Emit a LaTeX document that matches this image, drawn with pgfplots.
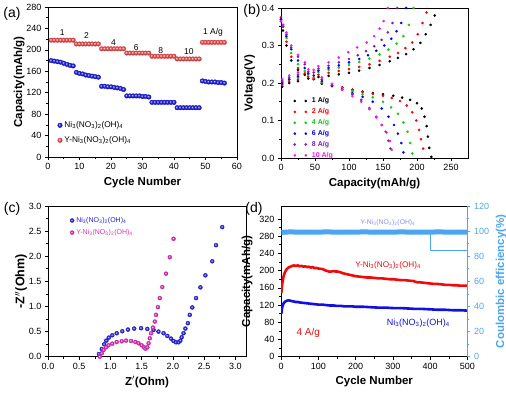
\documentclass[border=0pt]{standalone}
\usepackage{fontspec}
\setmainfont{Liberation Sans}
\usepackage{pgfplots}
\pgfplotsset{compat=1.18}

\definecolor{ballblue}{RGB}{30,30,230}
\definecolor{ballred}{RGB}{245,85,85}
\definecolor{bgreen}{RGB}{20,200,20}
\definecolor{bpurple}{RGB}{130,30,170}
\definecolor{bmag}{RGB}{250,20,240}
\definecolor{cpink}{RGB}{235,40,190}
\definecolor{dred}{RGB}{240,10,10}
\definecolor{dblue}{RGB}{15,15,230}
\definecolor{ceblue}{RGB}{75,165,240}
\definecolor{lav}{RGB}{140,140,235}

\newcommand{\nio}{Ni\textsubscript{3}(NO\textsubscript{3})\textsubscript{2}(OH)\textsubscript{4}}

\pgfplotsset{
  panel/.style={
    scale only axis,
    axis line style={line width=0.8pt},
    tick align=outside, tick pos=left,
    major tick length=3pt, minor tick length=1.8pt, minor tick num=1,
    every tick/.style={line width=0.6pt, black},
    ticklabel style={font=\fontsize{9}{10}\selectfont},
    label style={font=\fontsize{11.5}{13}\selectfont\bfseries},
    /pgf/number format/assume math mode=true,
    legend cell align=left,
  },
  bdots/.style={only marks, mark=*, mark size=1.1pt,
    legend image code/.code={\draw[##1] plot coordinates {(0pt,0pt) (11pt,0pt)};}},
}

\begin{document}
\begin{tikzpicture}[x=1pt,y=1pt]
\useasboundingbox (0,0) rectangle (506,392);

% ---------- (a) rate capability
\begin{axis}[panel, at={(48pt,235pt)}, anchor=south west, width=189pt, height=150pt,
  xmin=0, xmax=60, ymin=0, ymax=280,
  xtick={0,10,...,60}, ytick={0,40,...,280},
  xlabel={Cycle Number}, ylabel={Capacity(mAh/g)}, ylabel style={yshift=-5pt},
  legend style={at={(axis cs:2,74)}, anchor=north west, draw=none, fill=none,
    font=\fontsize{8.3}{9}\selectfont, row sep=3.5pt}]
\addplot[only marks, mark=ball, ball color=ballblue, color=ballblue, mark size=2.3pt] coordinates {
 (1,180)(2,179)(3,178)(4,177)(5,175)(6,173)(7,171)(8,170)
 (9,158)(10,156)(11,155)(12,153)(13,152)(14,151)(15,150)(16,149)
 (17,132)(18,132)(19,131)(20,131)(21,130)(22,129)(23,128)(24,126)
 (25,114)(26,114)(27,114)(28,114)(29,114)(30,113)(31,113)(32,112)
 (33,102)(34,102)(35,102)(36,102)(37,102)(38,102)(39,102)(40,102)
 (41,92)(42,92)(43,92)(44,92)(45,92)(46,92)(47,92)(48,92)
 (49,142)(50,141)(51,140)(52,140)(53,140)(54,139)(55,139)(56,138)};
\addlegendentry{\nio}
\addplot[only marks, mark=ball, ball color=ballred, color=ballred, mark size=2.3pt] coordinates {
 (1,218)(2,218)(3,218)(4,218)(5,218)(6,218)(7,218)(8,218)
 (9,211)(10,211)(11,211)(12,211)(13,211)(14,211)(15,211)(16,211)
 (17,202)(18,202)(19,202)(20,202)(21,202)(22,202)(23,202)(24,202)
 (25,194)(26,194)(27,194)(28,194)(29,194)(30,194)(31,194)(32,194)
 (33,188)(34,188)(35,188)(36,188)(37,188)(38,188)(39,188)(40,188)
 (41,183)(42,183)(43,183)(44,183)(45,183)(46,183)(47,183)(48,183)
 (49,214)(50,214)(51,214)(52,214)(53,214)(54,214)(55,214)(56,214)};
\addlegendentry{Y-\nio}
\begin{scope}[font=\fontsize{8.5}{9}\selectfont]
\node at (axis cs:4.5,233) {1};
\node at (axis cs:12.2,226) {2};
\node at (axis cs:20.8,214) {4};
\node at (axis cs:28,205) {6};
\node at (axis cs:35.8,198) {8};
\node at (axis cs:44.7,196) {10};
\node at (axis cs:52.4,233) {1 A/g};
\end{scope}
\end{axis}

% ---------- (b) discharge / charge curves
\begin{axis}[panel, at={(281pt,234pt)}, anchor=south west, width=187pt, height=150pt,
  xmin=0, xmax=275, ymin=0, ymax=0.4,
  xtick={0,50,...,250}, ytick={0,0.1,0.2,0.3,0.4},
  yticklabel style={/pgf/number format/.cd, fixed, fixed zerofill, precision=1},
  xlabel={Capacity(mAh/g)}, ylabel={Voltage(V)},
  legend style={at={(axis cs:14,0.172)}, anchor=north west, draw=none, fill=none,
    font=\fontsize{7}{8}\selectfont\bfseries, row sep=0.3pt,
    nodes={inner xsep=5pt}}]
% charge branches
\addplot[bdots, black] coordinates {
 (2,0.19)(12,0.20)(25,0.205)(40,0.212)(55,0.216)(70,0.219)(85,0.223)(100,0.227)(115,0.233)
 (130,0.240)(145,0.248)(160,0.258)(172,0.267)(184,0.277)(195,0.290)(205,0.307)(213,0.330)(220,0.355)(226,0.380)};
\addlegendentry{\textcolor{black}{1 A/g}}
\addplot[bdots, red] coordinates {
 (2,0.195)(12,0.205)(25,0.21)(40,0.217)(55,0.222)(70,0.227)(85,0.232)(100,0.237)(115,0.243)
 (130,0.250)(145,0.259)(160,0.270)(172,0.280)(183,0.293)(193,0.308)(201,0.33)(208,0.36)(214,0.388)};
\addlegendentry{\textcolor{red}{2 A/g}}
\addplot[bdots, bgreen] coordinates {
 (2,0.20)(12,0.21)(25,0.215)(40,0.222)(55,0.229)(70,0.235)(85,0.241)(100,0.248)(115,0.256)
 (130,0.265)(145,0.276)(158,0.289)(170,0.305)(180,0.325)(188,0.355)(195,0.40)};
\addlegendentry{\textcolor{bgreen}{4 A/g}}
\addplot[bdots, blue] coordinates {
 (2,0.20)(12,0.21)(25,0.218)(40,0.226)(55,0.233)(70,0.240)(85,0.247)(100,0.255)(115,0.264)
 (128,0.274)(140,0.286)(152,0.300)(162,0.318)(170,0.338)(177,0.36)(184,0.40)};
\addlegendentry{\textcolor{blue}{6 A/g}}
\addplot[bdots, bpurple] coordinates {
 (2,0.205)(12,0.215)(25,0.222)(40,0.23)(55,0.238)(70,0.246)(85,0.255)(100,0.264)(113,0.274)
 (125,0.285)(137,0.298)(148,0.315)(157,0.335)(164,0.36)(171,0.40)};
\addlegendentry{\textcolor{bpurple}{8 A/g}}
\addplot[bdots, bmag] coordinates {
 (2,0.21)(12,0.22)(25,0.228)(40,0.236)(55,0.245)(70,0.255)(85,0.268)(99,0.282)(112,0.295)
 (126,0.308)(137,0.325)(145,0.345)(151,0.365)(157,0.40)};
\addlegendentry{\textcolor{bmag}{10 A/g}}
% discharge branches
\addplot[bdots, black, forget plot] coordinates {
 (0,0.37)(3,0.34)(8,0.30)(15,0.26)(25,0.235)(35,0.222)(48,0.21)(60,0.198)(75,0.192)(90,0.188)
 (105,0.182)(120,0.177)(135,0.173)(150,0.170)(165,0.166)(178,0.161)(190,0.155)(200,0.146)
 (207,0.132)(211,0.11)(214,0.085)(216,0.057)(218,0.027)(221,0.003)};
\addplot[bdots, red, forget plot] coordinates {
 (0,0.375)(3,0.35)(8,0.31)(15,0.27)(25,0.24)(35,0.226)(48,0.212)(60,0.2)(75,0.193)(90,0.188)
 (105,0.182)(120,0.176)(135,0.171)(150,0.166)(163,0.16)(175,0.152)(185,0.14)(193,0.122)
 (199,0.1)(203,0.075)(206,0.05)(209,0.025)};
\addplot[bdots, bgreen, forget plot] coordinates {
 (0,0.37)(3,0.35)(8,0.32)(15,0.28)(25,0.25)(35,0.232)(48,0.215)(60,0.203)(75,0.193)(90,0.186)
 (105,0.178)(120,0.17)(135,0.162)(150,0.15)(162,0.135)(172,0.118)(180,0.095)(186,0.07)
 (190,0.04)(193,0.012)};
\addplot[bdots, blue, forget plot] coordinates {
 (0,0.37)(3,0.355)(8,0.325)(15,0.29)(25,0.26)(35,0.24)(48,0.22)(60,0.205)(75,0.192)(90,0.183)
 (105,0.173)(120,0.163)(135,0.15)(148,0.132)(158,0.11)(166,0.088)(172,0.065)(177,0.04)(180,0.015)};
\addplot[bdots, bpurple, forget plot] coordinates {
 (0,0.365)(3,0.35)(8,0.33)(15,0.295)(25,0.27)(35,0.25)(48,0.228)(60,0.21)(75,0.195)(90,0.183)
 (105,0.17)(118,0.155)(130,0.133)(140,0.11)(148,0.088)(154,0.07)(158,0.046)(161,0.025)};
\addplot[bdots, bmag, forget plot] coordinates {
 (0,0.365)(3,0.355)(8,0.335)(15,0.30)(25,0.275)(35,0.255)(48,0.235)(60,0.215)(75,0.198)(90,0.182)
 (105,0.165)(118,0.15)(130,0.13)(140,0.108)(148,0.088)(155,0.068)(160,0.045)(163,0.022)};
\end{axis}

% ---------- (c) Nyquist plots
\begin{axis}[panel, at={(48pt,35.3pt)}, anchor=south west, width=198pt, height=150.7pt,
  xmin=0, xmax=3.17, ymin=0, ymax=3,
  xtick={0,0.5,1,1.5,2,2.5,3}, ytick={0,0.5,1,1.5,2,2.5,3},
  ticklabel style={/pgf/number format/.cd, fixed, fixed zerofill, precision=1},
  xlabel={Z$'$(Ohm)}, ylabel={-Z$''$(Ohm)},
  ylabel style={font=\fontsize{12.5}{14}\selectfont\bfseries, yshift=-5pt},
  legend style={at={(axis cs:0.3,2.86)}, anchor=north west, draw=none, fill=none,
    font=\fontsize{7}{8}\selectfont, row sep=1.5pt}]
\addplot[only marks, mark=ball, ball color=ballblue, color=ballblue, mark size=2pt] coordinates {
 (0.816,0.053)(0.861,0.153)(0.90,0.247)(0.934,0.32)(0.974,0.38)(1.03,0.427)(1.10,0.467)
 (1.19,0.507)(1.28,0.54)(1.38,0.56)(1.49,0.567)(1.59,0.553)(1.69,0.533)(1.77,0.50)
 (1.85,0.467)(1.91,0.413)(1.97,0.36)(2.01,0.313)(2.05,0.287)(2.09,0.287)(2.12,0.32)
 (2.14,0.387)(2.17,0.467)(2.20,0.56)(2.24,0.667)(2.27,0.833)(2.31,0.98)(2.37,1.167)
 (2.44,1.38)(2.52,1.62)(2.63,1.90)(2.69,2.22)(2.79,2.58)};
\addlegendentry{\textcolor{ballblue}{\nio}}
\addplot[only marks, mark=ball, ball color=cpink, color=cpink, mark size=2pt] coordinates {
 (0.83,0.0)(0.86,0.067)(0.89,0.133)(0.93,0.187)(0.97,0.227)(1.03,0.26)(1.10,0.293)
 (1.18,0.307)(1.25,0.32)(1.33,0.313)(1.40,0.293)(1.45,0.267)(1.50,0.227)(1.54,0.187)
 (1.56,0.16)(1.59,0.187)(1.61,0.267)(1.63,0.367)(1.65,0.467)(1.68,0.58)(1.71,0.70)
 (1.73,0.833)(1.76,0.987)(1.79,1.167)(1.83,1.387)(1.89,1.653)(1.95,1.98)(2.01,2.347)};
\addlegendentry{\textcolor{cpink}{Y-\nio}}
\end{axis}

% ---------- (d) cycling stability
\begin{axis}[panel, at={(281pt,35.3pt)}, anchor=south west, width=186.5pt, height=150.7pt,
  xmin=0, xmax=500, ymin=0, ymax=350,
  xtick={0,100,...,500}, ytick={0,40,...,320},
  xlabel={Cycle Number}, ylabel={Capacity(mAh/g)}]
\addplot[dred, line width=2.6pt, line join=round] coordinates {
 (1,148)(2,158)(3,167)(5,178)(7,187)(10,195)(13,200)(16,204)(20,207)(25,209)(30,211)(35,212)
 (40,211)(45,212)(50,210)(55,211)(60,209)(65,210)(70,208)(75,209)(80,207)(85,208)(90,206)
 (95,206)(100,205)(105,204)(110,204)(115,202)(120,200)(125,199)(130,197)(135,198)(140,199)
 (145,198)(150,198)(155,197)(160,196)(165,194)(170,193)(175,192)(180,191)(185,190)(190,189)
 (195,188)(200,187)(210,186)(220,185)(230,184)(240,184)(250,183)(260,182)(270,182)(280,181)
 (290,180)(300,180)(310,179)(320,178)(330,178)(340,177)(350,176)(355,176)(360,174)(365,173)
 (370,173)(380,172)(390,171)(400,170)(410,169)(420,169)(430,168)(440,167)(450,167)(460,166)
 (470,166)(480,165)(490,165)(500,165)};
\addplot[dblue, line width=2.6pt, line join=round] coordinates {
 (1,100)(2,108)(3,114)(5,120)(7,124)(10,127)(13,129)(16,130)(20,131)(25,130)(30,129)(35,128)
 (40,127)(45,127)(50,126)(60,125)(70,124)(80,123)(90,122)(100,121)(110,121)(120,120)(130,119)
 (140,119)(150,118)(160,118)(170,117)(180,117)(190,117)(200,116)(220,116)(240,115)(260,114)
 (280,114)(300,113)(320,113)(340,112)(360,111)(380,111)(400,110)(420,109)(440,109)(460,108)
 (480,108)(500,107)};
\node[font=\fontsize{6.8}{8}\selectfont, text=lav] at (axis cs:287,311) {Y-\nio};
\node[font=\fontsize{8.2}{9}\selectfont, text=dred] at (axis cs:287,212) {Y-\nio};
\node[font=\fontsize{9}{10}\selectfont, text=dblue] at (axis cs:368,79) {\nio};
\node[font=\fontsize{10}{11}\selectfont, text=dred] at (axis cs:73,56) {4 A/g};
\end{axis}
\begin{axis}[panel, at={(281pt,35.3pt)}, anchor=south west, width=186.5pt, height=150.7pt,
  axis x line=none, axis y line*=right, ytick pos=right,
  xmin=0, xmax=500, ymin=0, ymax=120, ytick={0,20,...,120},
  y axis line style={ceblue, line width=0.8pt},
  every tick/.style={line width=0.6pt, ceblue},
  yticklabel style={text=ceblue},
  ylabel={Coulombic efficiency(\%)}, ylabel style={text=ceblue}]
\addplot[ceblue, line width=5pt] coordinates {
 (1,99.0)(25,99.4)(50,99.1)(75,99.3)(100,99.2)(125,99.4)(150,99.1)(175,99.3)(200,99.2)
 (225,99.4)(250,99.1)(275,99.3)(300,99.2)(325,99.4)(350,99.1)(375,99.3)(400,99.2)
 (425,99.4)(450,99.1)(475,99.3)(500,99.2)};
\addplot[ceblue, line width=1pt] coordinates {(400,99.2)(400,84.5)(500,84.5)};
\end{axis}

\node[font=\fontsize{14}{16}\selectfont] at (12,378) {(a)};
\node[font=\fontsize{14}{16}\selectfont] at (252,381) {(b)};
\node[font=\fontsize{14}{16}\selectfont] at (12,183) {(c)};
\node[font=\fontsize{14}{16}\selectfont] at (254,183) {(d)};
\end{tikzpicture}
\end{document}
